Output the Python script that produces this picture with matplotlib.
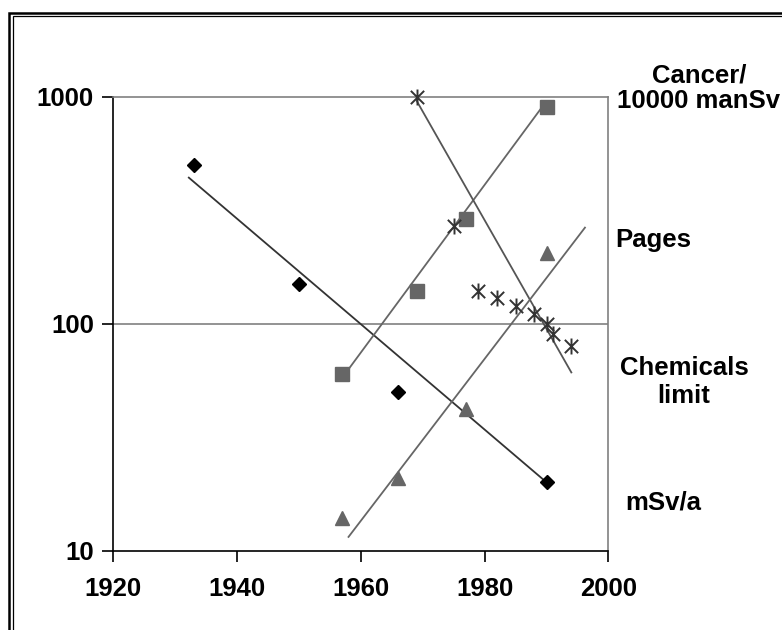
"""
Log-scale chart: four trends against year, with exponential trend lines
"""

import matplotlib
matplotlib.use("Agg")
import matplotlib.pyplot as plt
from matplotlib.path import Path
from matplotlib.patches import Rectangle

plt.rcParams['font.family'] = ['Liberation Sans', 'DejaVu Sans']

# mSv/a (diamonds)
msv_years = [1933, 1950, 1966, 1990]
msv_values = [500, 150, 50, 20]
msv_trend_years = [1932.2, 1990]
msv_trend_values = [440, 20]

# Pages (squares)
pages_years = [1957, 1969, 1977, 1990]
pages_values = [60, 140, 290, 900]
pages_trend_years = [1958, 1989]
pages_trend_values = [63, 880]

# Cancer / 10000 manSv (stars)
cancer_years = [1969, 1975, 1979, 1982, 1985, 1988, 1990, 1991, 1994]
cancer_values = [1000, 270, 140, 130, 120, 110, 100, 90, 80]
cancer_trend_years = [1969, 1994]
cancer_trend_values = [960, 61]

# Chemicals limit (triangles)
chem_years = [1957, 1966, 1977, 1990]
chem_values = [14, 21, 42, 205]
chem_trend_years = [1958, 1996.2]
chem_trend_values = [11.5, 265]

x_ticks = [1920, 1940, 1960, 1980, 2000]
y_ticks = [10, 100, 1000]

label_fontsize = 18.5

# Excel style star: an X with a vertical bar through it
star = Path([(-0.5, -0.5), (0.5, 0.5), (-0.5, 0.5), (0.5, -0.5), (0, -0.6), (0, 0.6)],
            [Path.MOVETO, Path.LINETO, Path.MOVETO, Path.LINETO, Path.MOVETO, Path.LINETO])

fig = plt.figure(figsize=(7.82, 6.3), dpi=100)
ax = fig.add_axes([0.1449, 0.1259, 0.6332, 0.7206])

ax.set_yscale("log")
ax.set_xlim(1920, 2000)
ax.set_ylim(10, 1000)

ax.axhline(100, color="#808080", lw=1.2, zorder=1)

ax.plot(msv_trend_years, msv_trend_values, color="#333333", lw=1.3, zorder=2)
ax.plot(pages_trend_years, pages_trend_values, color="#666666", lw=1.3, zorder=2)
ax.plot(cancer_trend_years, cancer_trend_values, color="#555555", lw=1.3, zorder=2)
ax.plot(chem_trend_years, chem_trend_values, color="#666666", lw=1.3, zorder=2)

ax.plot(msv_years, msv_values, "D", color="black", ms=7.2, ls="none", zorder=3, clip_on=False)
ax.plot(pages_years, pages_values, "s", color="#666666", ms=10, ls="none", zorder=3, clip_on=False)
ax.plot(chem_years, chem_values, "^", color="#666666", ms=10, ls="none", zorder=3, clip_on=False)
ax.plot(cancer_years, cancer_values, ls="none", marker=star, ms=11.5, mew=1.4,
        mfc="none", mec="#333333", zorder=4, clip_on=False)

ax.set_xticks(x_ticks)
ax.set_xticklabels([str(t) for t in x_ticks], fontsize=label_fontsize, fontweight="bold")
ax.set_yticks(y_ticks)
ax.set_yticklabels([str(t) for t in y_ticks], fontsize=label_fontsize, fontweight="bold")
ax.minorticks_off()
ax.tick_params(direction="out", length=8, width=1.2, colors="black", pad=11)
ax.tick_params(axis="y", pad=6)

ax.spines["left"].set_color("black")
ax.spines["bottom"].set_color("black")
ax.spines["top"].set_color("#808080")
ax.spines["right"].set_color("#808080")
for s in ax.spines.values():
    s.set_linewidth(1.2)

# series names at the right
fig.text(699 / 782, 1 - 88 / 630, "Cancer/\n10000 manSv", ha="center", va="center",
         fontsize=label_fontsize, fontweight="bold", linespacing=1.1)
fig.text(615 / 782, 1 - 240 / 630, "Pages", ha="left", va="center",
         fontsize=label_fontsize, fontweight="bold")
fig.text(684 / 782, 1 - 382 / 630, "Chemicals\nlimit", ha="center", va="center",
         fontsize=label_fontsize, fontweight="bold", linespacing=1.25)
fig.text(663 / 782, 1 - 503 / 630, "mSv/a", ha="center", va="center",
         fontsize=label_fontsize, fontweight="bold")

# double frame, open to the right and bottom
fig.patches.append(Rectangle((9.3 / 782, -0.1), 1.2, 1.1 - 13 / 630, transform=fig.transFigure,
                             fill=False, ec="black", lw=1.8))
fig.patches.append(Rectangle((13.3 / 782, -0.1), 1.2, 1.1 - 15.7 / 630, transform=fig.transFigure,
                             fill=False, ec="black", lw=0.9))

fig.savefig("out.png", dpi=100)
print("Done")
